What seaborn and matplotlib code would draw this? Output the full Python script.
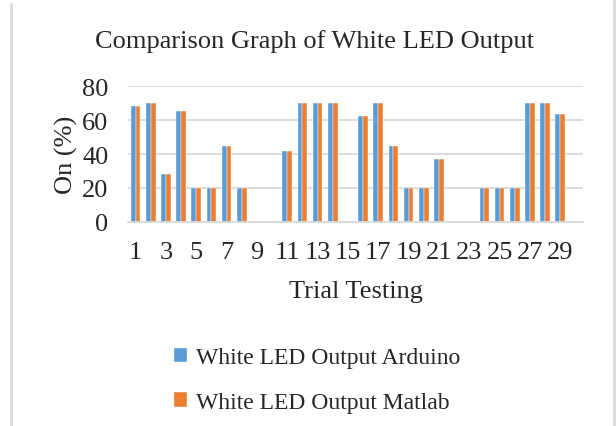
import matplotlib
matplotlib.use("Agg")
import matplotlib.pyplot as plt
import seaborn as sns
import pandas as pd
from matplotlib.lines import Line2D

trials = list(range(1, 31))
arduino = [68.4, 70, 28.4, 65.4, 20, 20, 44.9, 20, 0, 0,
           41.6, 70, 70, 70, 0, 62.3, 70, 45, 20, 20,
           36.8, 0, 0, 20, 20, 20, 70, 70, 63.8, 0]
matlab = [68.5, 70, 28.3, 65.4, 20, 20, 44.9, 20, 0, 0,
          41.7, 70, 70, 70, 0, 62.3, 70, 45, 20, 20,
          36.9, 0, 0, 19.8, 20, 20, 70, 70, 63.8, 0]
series_names = ["White LED Output Arduino", "White LED Output Matlab"]
yticks = [0, 20, 40, 60, 80]
xtick_labels = [str(t) if t % 2 == 1 else "" for t in trials]

df = pd.DataFrame({
    "Trial": [str(t) for t in trials] * 2,
    "Value": arduino + matlab,
    "Series": [series_names[0]] * len(trials) + [series_names[1]] * len(trials),
})

sns.set_theme(style="white")
plt.rcParams["font.family"] = ["Liberation Serif", "DejaVu Serif"]

fig = plt.figure(figsize=(6.16, 4.27), dpi=100)
ax = fig.add_axes([128 / 616, 1 - 223 / 427, (583 - 128) / 616, (223 - 87) / 427])

sns.barplot(data=df, x="Trial", y="Value", hue="Series",
            palette=["#5B9BD5", "#ED7D31"], saturation=1, width=0.64, ax=ax,
            edgecolor="white", linewidth=0.3, legend=True)

ax.set_ylim(0, 80)
ax.set_xlim(-0.5, len(trials) - 0.5)
ax.set_yticks(yticks)
ax.set_yticklabels([str(v) for v in yticks], fontsize=19)
ax.set_xticks(range(len(trials)))
ax.set_xticklabels(xtick_labels, fontsize=19)
ax.tick_params(axis="y", length=0, pad=14)
ax.tick_params(axis="x", length=0, pad=14)
ax.yaxis.grid(True, color="#D9D9D9", linewidth=1.3)
ax.set_axisbelow(True)
for s in ["top", "right", "left"]:
    ax.spines[s].set_visible(False)
ax.spines["bottom"].set_color("#D9D9D9")
ax.spines["bottom"].set_linewidth(1.3)

ax.set_xlabel("Trial Testing", fontsize=19, labelpad=12)
ax.set_ylabel("On (%)", fontsize=19, labelpad=3)

fig.text(315 / 616, 1 - 42 / 427, "Comparison Graph of White LED Output",
         ha="center", va="center", fontsize=19)

handles, labels = ax.get_legend_handles_labels()
ax.get_legend().remove()
fig.legend(handles, labels, loc="center", bbox_to_anchor=(317 / 616, 1 - 381 / 427),
           ncol=1, frameon=False, fontsize=17, handlelength=0.55, handleheight=0.55,
           handletextpad=0.35, labelspacing=1.0, borderaxespad=0)

for xp, y0 in [(11, 5), (614, 0)]:
    fig.add_artist(Line2D([xp / 616, xp / 616], [0, 1 - y0 / 427],
                          transform=fig.transFigure, color="#D9D9D9", linewidth=2))

fig.savefig("out.png", dpi=100)
